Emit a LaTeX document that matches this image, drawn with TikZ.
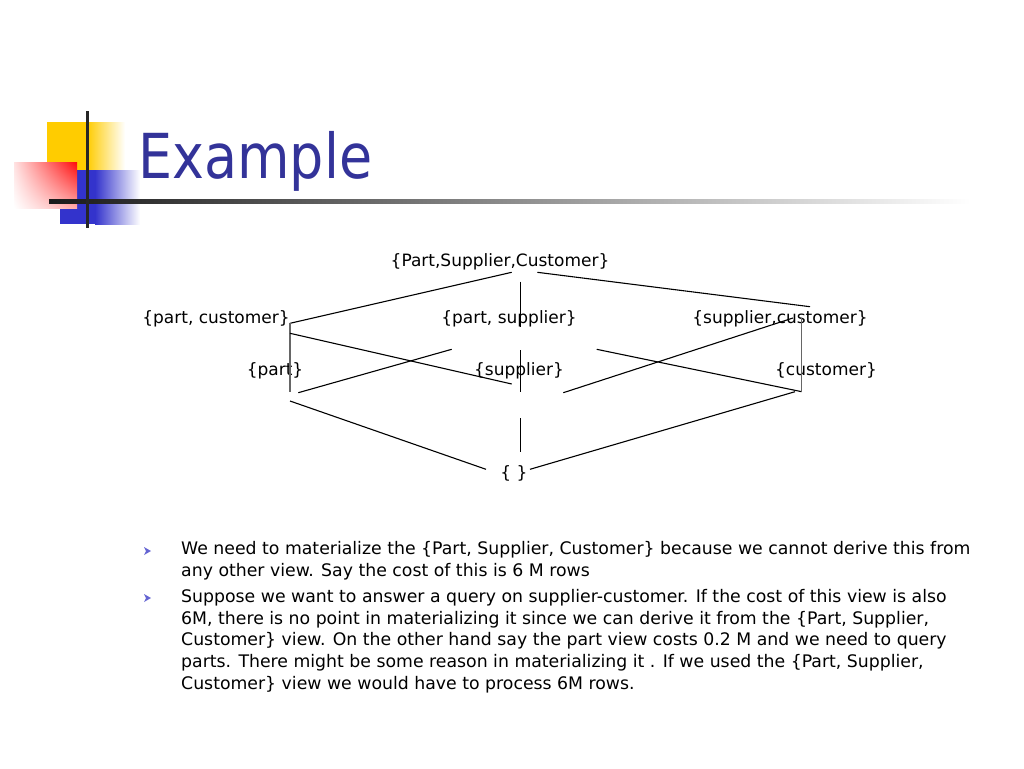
\documentclass[tikz,border=0pt]{standalone}
\usepackage{fontspec}
\setmainfont{DejaVu Sans}
\newfontfamily\titlefont[FakeStretch=0.87]{DejaVu Sans}
\usetikzlibrary{shadings}
\definecolor{titleblue}{RGB}{51,51,153}
\definecolor{logoyellow}{RGB}{255,204,0}
\definecolor{logoblue}{RGB}{51,51,204}
\definecolor{logored}{RGB}{255,10,10}
\definecolor{bullblue}{RGB}{100,100,210}
\tikzstyle{view}=[inner sep=0pt, anchor=base, font=\fontsize{17}{20}\selectfont]
\tikzstyle{link}=[line width=1.1pt]
\tikzstyle{dim}=[line width=1.1pt, draw=black!60]
\tikzstyle{para}=[inner sep=0pt, anchor=north west, align=left, font=\fontsize{17.3}{21.7}\selectfont]

\begin{document}
\begin{tikzpicture}[x=1pt,y=-1pt]
      \useasboundingbox (0,0) rectangle (1024,768);
      % logo
      \fill[logoyellow] (47,122) rectangle (87,170);
      \shade[left color=logoyellow, right color=white] (87,122) rectangle (125,170);
      \fill[logoblue] (60,170) rectangle (95,224);
      \shade[left color=logoblue, right color=white] (95,170) rectangle (140,224);
      \shade[upper right=logored, upper left=logored!12, lower left=white, lower right=logored!35] (14,162) rectangle (77,208);
      \shade[left color=black!90, right color=white] (49,199) rectangle (970,203.5);
      \fill[black!85] (85.5,111) rectangle (88.5,228);
      \node [inner sep=0pt, anchor=base west, text=titleblue, font=\titlefont\fontsize{62}{70}\selectfont] (title) at (138,178) {Example};
      % lattice
      \node [view] (top) at (500,266) {\{Part,Supplier,Customer\}};
      \node [view] (pc) at (216,323) {\{part, customer\}};
      \node [view] (ps) at (509,323) {\{part, supplier\}};
      \node [view] (sc) at (780,323) {\{supplier,customer\}};
      \node [view] (p) at (275,375) {\{part\}};
      \node [view] (s) at (519,375) {\{supplier\}};
      \node [view] (c) at (826,375) {\{customer\}};
      \node [view] (none) at (514,478) {\{ \}};
      \coordinate (top-l) at (511.7,272.3);
      \coordinate (top-r) at (537.3,272.3);
      \coordinate (top-m) at (520.7,281.7);
      \coordinate (pc-r) at (290,323.3);
      \coordinate (pc-d) at (290,333.3);
      \coordinate (ps-u) at (520.7,326.7);
      \coordinate (ps-d) at (520.7,350);
      \coordinate (ps-l) at (451.7,349.3);
      \coordinate (ps-r) at (596.7,349.3);
      \coordinate (sc-l) at (810,306.7);
      \coordinate (sc-d) at (793,318);
      \coordinate (sc-v) at (801.7,318);
      \coordinate (p-u) at (290,392);
      \coordinate (p-r) at (298.3,392.7);
      \coordinate (p-d) at (290,401);
      \coordinate (s-l) at (511.7,384);
      \coordinate (s-u) at (520.7,391.7);
      \coordinate (s-r) at (563.3,392.7);
      \coordinate (s-d) at (520.5,418);
      \coordinate (c-u) at (801.7,391.7);
      \coordinate (c-d) at (795,391.7);
      \coordinate (none-l) at (486,469.3);
      \coordinate (none-u) at (520.5,452);
      \coordinate (none-r) at (530,469.3);
      \draw[link] (top-l) -- (pc-r);
      \draw[link] (top-r) -- (sc-l);
      \draw[link] (top-m) -- (ps-u);
      \draw[dim] (pc-r) -- (p-u);
      \draw[link] (pc-d) -- (s-l);
      \draw[link] (p-r) -- (ps-l);
      \draw[link] (ps-d) -- (s-u);
      \draw[link] (ps-r) -- (c-u);
      \draw[link] (s-r) -- (sc-d);
      \draw[dim] (sc-v) -- (c-u);
      \draw[link] (p-d) -- (none-l);
      \draw[link] (s-d) -- (none-u);
      \draw[link] (c-d) -- (none-r);
      % bullets
      \foreach \y in {551,598}
        \fill[bullblue] (144,\y-4) -- (151,\y) -- (144,\y+4) -- (146,\y) -- cycle;
      \node [para] (first) at (181,541) {We need to materialize the \{Part, Supplier, Customer\} because we cannot derive this from\\any other view. Say the cost of this is 6 M rows};
      \node [para] (second) at (181,589) {Suppose we want to answer a query on supplier-customer. If the cost of this view is also\\6M, there is no point in materializing it since we can derive it from the \{Part, Supplier,\\Customer\} view. On the other hand say the part view costs 0.2 M and we need to query\\parts. There might be some reason in materializing it . If we used the \{Part, Supplier,\\Customer\} view we would have to process 6M rows.};
  \end{tikzpicture}
\end{document}
